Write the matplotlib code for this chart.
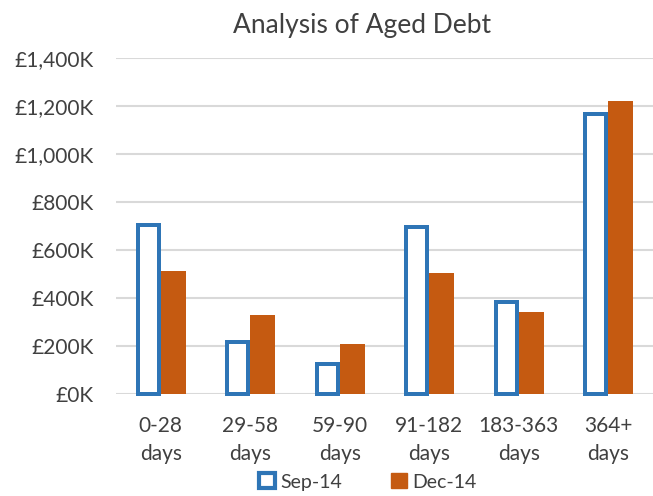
import matplotlib.pyplot as plt
import numpy as np
from matplotlib.ticker import FuncFormatter
from matplotlib.patches import Patch

categories = ["0-28\ndays", "29-58\ndays", "59-90\ndays", "91-182\ndays", "183-363\ndays", "364+\ndays"]
sep14 = [704, 215, 125, 695, 382, 1167]
dec14 = [510, 327, 209, 504, 340, 1220]

blue = "#2E75B6"
orange = "#C55A11"
grey_text = "#404040"

plt.rcParams['font.family'] = ['Lato', 'DejaVu Sans']

fig = plt.figure(figsize=(6.53, 4.96), dpi=100)
ax = fig.add_axes([116 / 653, 102.3 / 496, 537 / 653, 336 / 496])

x = np.arange(len(categories))
w = 25 / 89.5
lw_px = 4
ax.bar(x - w / 2, sep14, width=w - lw_px / 89.5, facecolor="white", edgecolor=blue,
       linewidth=lw_px * 0.72, clip_on=False, zorder=3)
ax.bar(x + w / 2, dec14, width=w, color=orange, clip_on=False, zorder=3)

ax.set_xlim(-0.5, len(categories) - 0.5)
ax.set_ylim(0, 1400)
ax.set_yticks(np.arange(0, 1401, 200))
ax.yaxis.set_major_formatter(FuncFormatter(lambda v, p: f"£{v:,.0f}K"))
ax.set_xticks(x)
ax.set_xticklabels(categories, linespacing=1.5)
ax.grid(axis="y", color="#D9D9D9", linewidth=1.5, zorder=0)
ax.set_axisbelow(True)
for s in ax.spines.values():
    s.set_visible(False)
ax.tick_params(axis="both", length=0, labelsize=15, colors=grey_text)
ax.tick_params(axis="y", pad=16)
ax.tick_params(axis="x", pad=16)

fig.text(362 / 653, 1 - 25 / 496, "Analysis of Aged Debt", ha="center", va="center",
         fontsize=19, color=grey_text)

handles = [Patch(facecolor="white", edgecolor=blue, linewidth=3),
           Patch(facecolor=orange, edgecolor=orange)]
fig.legend(handles, ["Sep-14", "Dec-14"], loc="center", bbox_to_anchor=(368 / 653, 1 - 482 / 496),
           ncol=2, frameon=False, fontsize=14, labelcolor=grey_text, handlelength=0.8,
           handleheight=0.8, handletextpad=0.3, columnspacing=2.5)

fig.savefig("out.png", dpi=100)
